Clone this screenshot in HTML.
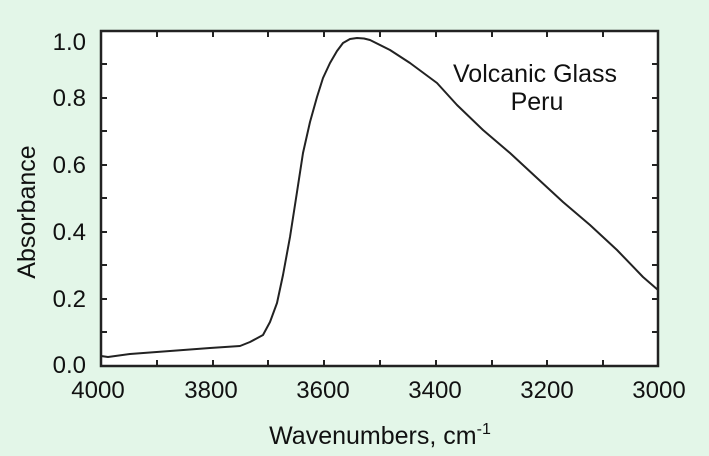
<!DOCTYPE html>
<html><head><meta charset="utf-8"><style>
html,body{margin:0;padding:0;background:#e3f6e8;}
svg{display:block;font-family:"Liberation Sans",sans-serif;}
</style></head><body>
<svg width="709" height="456" viewBox="0 0 709 456">
<rect x="0" y="0" width="709" height="456" fill="#e3f6e8"/>
<rect x="101" y="31" width="557" height="335" fill="#fff" stroke="#222" stroke-width="2.5"/>
<g stroke="#222" stroke-width="2">
<line x1="157" y1="366" x2="157" y2="360"/><line x1="213" y1="366" x2="213" y2="360"/>
<line x1="268" y1="366" x2="268" y2="360"/><line x1="324" y1="366" x2="324" y2="360"/>
<line x1="380" y1="366" x2="380" y2="360"/><line x1="436" y1="366" x2="436" y2="360"/>
<line x1="492" y1="366" x2="492" y2="360"/><line x1="547" y1="366" x2="547" y2="360"/>
<line x1="603" y1="366" x2="603" y2="360"/>
<line x1="157" y1="31" x2="157" y2="37"/><line x1="213" y1="31" x2="213" y2="37"/>
<line x1="268" y1="31" x2="268" y2="37"/><line x1="324" y1="31" x2="324" y2="37"/>
<line x1="380" y1="31" x2="380" y2="37"/><line x1="436" y1="31" x2="436" y2="37"/>
<line x1="492" y1="31" x2="492" y2="37"/><line x1="547" y1="31" x2="547" y2="37"/>
<line x1="603" y1="31" x2="603" y2="37"/>
<line x1="101" y1="332" x2="107" y2="332"/><line x1="101" y1="299" x2="107" y2="299"/>
<line x1="101" y1="265" x2="107" y2="265"/><line x1="101" y1="232" x2="107" y2="232"/>
<line x1="101" y1="198" x2="107" y2="198"/><line x1="101" y1="165" x2="107" y2="165"/>
<line x1="101" y1="131" x2="107" y2="131"/><line x1="101" y1="98" x2="107" y2="98"/>
<line x1="101" y1="64" x2="107" y2="64"/>
<line x1="658" y1="332" x2="652" y2="332"/><line x1="658" y1="299" x2="652" y2="299"/>
<line x1="658" y1="265" x2="652" y2="265"/><line x1="658" y1="232" x2="652" y2="232"/>
<line x1="658" y1="198" x2="652" y2="198"/><line x1="658" y1="165" x2="652" y2="165"/>
<line x1="658" y1="131" x2="652" y2="131"/><line x1="658" y1="98" x2="652" y2="98"/>
<line x1="658" y1="64" x2="652" y2="64"/>
</g>
<path d="M101,356 L108,357 L130,354 L170,351 L210,348 L240,346 L250,342 L263,335 L270,322 L277,303 L283,275 L290,237 L297,192 L303,153 L310,122 L317,97 L323,78 L330,63 L337,51 L343,43 L350,39 L357,38 L364,38.5 L370,40 L390,50 L410,63 L437,83 L457,105 L483,130 L510,153 L537,178 L563,202 L590,225 L617,250 L643,277 L658,290" fill="none" stroke="#222" stroke-width="2" stroke-linejoin="round"/>
<g font-size="24" fill="#111" text-anchor="end">
<text x="86" y="50">1.0</text><text x="86" y="106">0.8</text><text x="86" y="173">0.6</text>
<text x="86" y="240">0.4</text><text x="86" y="307">0.2</text><text x="86" y="373">0.0</text>
</g>
<g font-size="24" fill="#111" text-anchor="middle">
<text x="98" y="398">4000</text><text x="211" y="398">3800</text><text x="323" y="398">3600</text>
<text x="435" y="398">3400</text><text x="547" y="398">3200</text><text x="659" y="398">3000</text>
<text x="535" y="82" font-size="25">Volcanic Glass</text><text x="537" y="110" font-size="25">Peru</text>
<text x="380" y="444" font-size="25">Wavenumbers, cm<tspan font-size="16" dy="-10">-1</tspan></text>
</g>
<text transform="translate(35,212) rotate(-90)" font-size="25" fill="#111" text-anchor="middle">Absorbance</text>
</svg>
</body></html>
